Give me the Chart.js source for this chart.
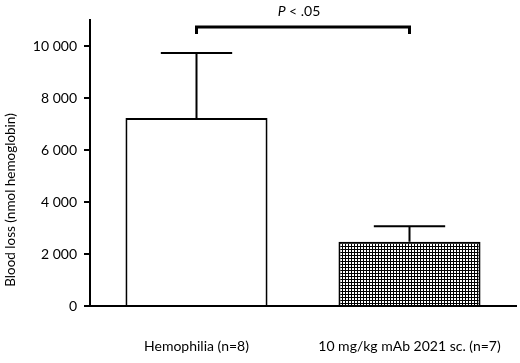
<!DOCTYPE html>
<html>
<head>
<meta charset="utf-8">
<script src="https://cdn.jsdelivr.net/npm/chart.js@4"></script>
<style>
  html, body { margin: 0; padding: 0; background: #fff; }
  #wrap { width: 520px; height: 363px; position: relative; }
</style>
</head>
<body>
<div id="wrap"><canvas id="plotGraph"></canvas></div>
<script>
// データ
const groups = ["Hemophilia (n=8)", "10 mg/kg mAb 2021 sc. (n=7)"]
const bloodLoss = [7230, 2470]
const errUpper = [9730, 3070]
const yTicks = [0, 2000, 4000, 6000, 8000, 10000]
const yTitle = "Blood loss (nmol hemoglobin)"
const sigText = ".05"
const sigLevel = 10730
const sigDrop = 10460

const FONT = "Lato"

// 格子模様
function hatchPattern() {
  let c = document.createElement("canvas")
  c.width = 3
  c.height = 3
  let g = c.getContext("2d")
  g.fillStyle = "#fff"
  g.fillRect(0, 0, 3, 3)
  g.fillStyle = "#000"
  g.fillRect(0, 0, 3, 1)
  g.fillRect(0, 0, 1, 3)
  return g.createPattern(c, "repeat")
}

// エラーバーと有意差の線
const extras = {
  id: "extras",
  afterDatasetsDraw(chart) {
    let ctx = chart.ctx
    let xs = chart.scales.x
    let ys = chart.scales.y
    ctx.save()
    ctx.strokeStyle = "#000"
    ctx.lineWidth = 2
    errUpper.forEach((v, i) => {
      let x = xs.getPixelForValue(i)
      let y0 = ys.getPixelForValue(bloodLoss[i])
      let y1 = ys.getPixelForValue(v)
      let half = xs.width / 4 * 0.335
      ctx.beginPath()
      ctx.moveTo(x, y0)
      ctx.lineTo(x, y1)
      ctx.moveTo(x - half, y1)
      ctx.lineTo(x + half, y1)
      ctx.stroke()
    })
    // bracket
    let xa = xs.getPixelForValue(0)
    let xb = xs.getPixelForValue(1)
    let yl = ys.getPixelForValue(sigLevel)
    let yd = ys.getPixelForValue(sigDrop)
    ctx.lineWidth = 3
    ctx.beginPath()
    ctx.moveTo(xa, yd)
    ctx.lineTo(xa, yl)
    ctx.lineTo(xb, yl)
    ctx.lineTo(xb, yd)
    ctx.stroke()
    // P < .05
    ctx.fillStyle = "#000"
    ctx.textBaseline = "middle"
    let p = "P"
    let rest = " < " + sigText
    ctx.font = "italic 14px " + FONT
    let wp = ctx.measureText(p).width
    ctx.font = "14px " + FONT
    let wr = ctx.measureText(rest).width
    let cx = (xa + xb) / 2 - 4
    let sx = cx - (wp + wr) / 2
    ctx.font = "italic 14px " + FONT
    ctx.fillText(p, sx, 11)
    ctx.font = "14px " + FONT
    ctx.fillText(rest, sx + wp, 11)
    // y title
    ctx.translate(11, 200)
    ctx.rotate(-Math.PI / 2)
    ctx.textAlign = "center"
    ctx.font = "13.5px " + FONT
    ctx.fillText(yTitle, 0, 0)
    ctx.restore()
  }
}

let mainData = {
  labels: groups,
  datasets: [{
    data: bloodLoss,
    backgroundColor: ["#fff", hatchPattern()],
    borderColor: "#000",
    borderWidth: 2,
    borderSkipped: "bottom",
    barPercentage: 0.667,
    categoryPercentage: 1
  }]
}

let mainOptions = {
  responsive: true,
  maintainAspectRatio: false,
  animation: false,
  layout: { padding: { left: 0, right: 4, top: 20, bottom: 0 } },
  plugins: { legend: { display: false }, tooltip: { enabled: false } },
  scales: {
    x: {
      grid: { display: false, drawTicks: false },
      border: { color: "#000", width: 2 },
      ticks: { color: "#000", padding: 32, font: { family: FONT, size: 14 } },
      afterFit: s => {
        s.height = 57
        s.paddingLeft = 0
        s.paddingRight = 0
      }
    },
    y: {
      min: 0,
      max: 11000,
      afterBuildTicks: s => { s.ticks = yTicks.map(v => ({ value: v })) },
      grid: { drawOnChartArea: false, tickLength: 6, color: "#000", lineWidth: 2 },
      border: { color: "#000", width: 2 },
      ticks: {
        color: "#000",
        padding: 7,
        font: { family: FONT, size: 14 },
        callback: v => String(v).replace(/\B(?=(\d{3})+(?!\d))/g, " ")
      },
      afterFit: s => { s.width = 90 }
    }
  }
}

new Chart(document.getElementById("plotGraph"), {
  type: "bar",
  data: mainData,
  options: mainOptions,
  plugins: [extras]
})
</script>
</body>
</html>
